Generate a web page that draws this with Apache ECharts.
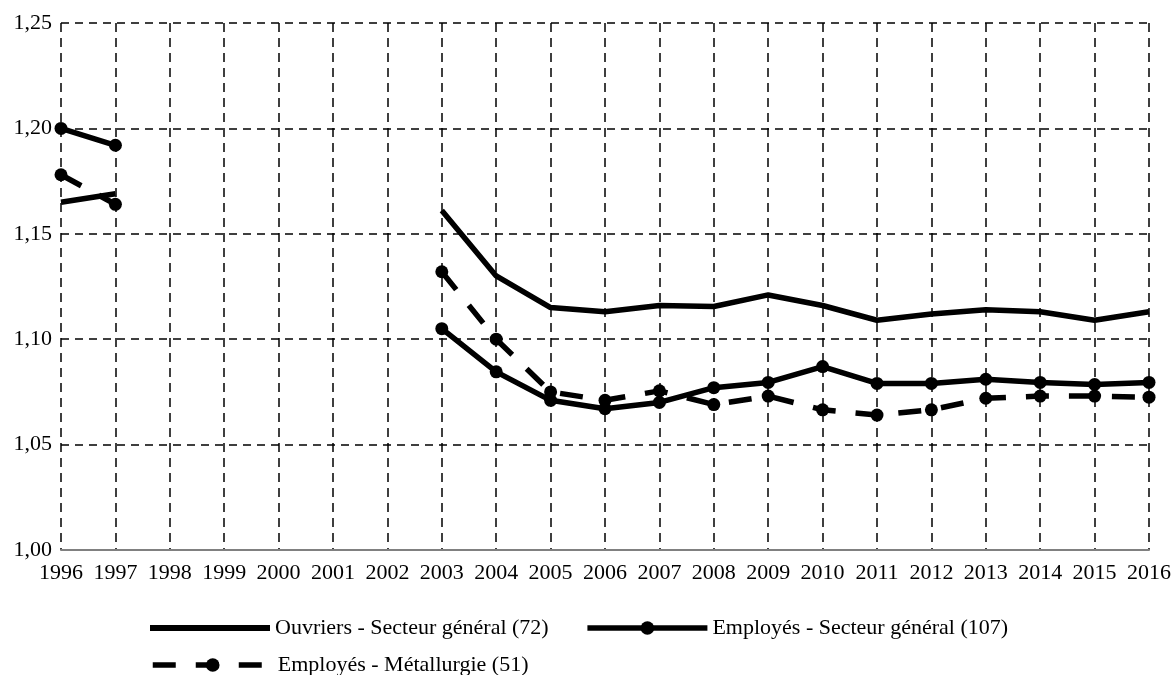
<!DOCTYPE html>
<html>
<head>
<meta charset="utf-8">
<script src="https://cdn.jsdelivr.net/npm/echarts@6/dist/echarts.min.js"></script>
<style>
html,body{margin:0;padding:0;background:#fff;}
#chart{width:1176px;height:675px;}
</style>
</head>
<body>
<div id="chart"></div>
<script>
const years = ['1996','1997','1998','1999','2000','2001','2002','2003','2004','2005','2006','2007','2008','2009','2010','2011','2012','2013','2014','2015','2016'];
const ouvriersSG = [1.165,1.169,null,null,null,null,null,1.161,1.130,1.115,1.113,1.116,1.1155,1.121,1.116,1.109,1.112,1.114,1.113,1.109,1.113];
const employesSG = [1.200,1.192,null,null,null,null,null,1.105,1.0845,1.071,1.067,1.070,1.077,1.0795,1.087,1.079,1.079,1.081,1.0795,1.0785,1.0795];
const employesMet = [1.178,1.164,null,null,null,null,null,1.132,1.100,1.075,1.071,1.0755,1.069,1.073,1.0665,1.064,1.0665,1.072,1.073,1.073,1.0725];
const names = ['Ouvriers - Secteur général (72)','Employés - Secteur général (107)','Employés - Métallurgie (51)'];

const font = 'Liberation Serif';
const chart = echarts.init(document.getElementById('chart'), null, {renderer:'canvas'});
const legendText = {fontFamily:font, fontSize:22, color:'#000'};
const legendLine = {width:5.5};
chart.setOption({
  animation:false,
  backgroundColor:'#fff',
  grid:{left:61, right:27, top:23, bottom:125, containLabel:false},
  legend:[
    {data:[{name:names[0], icon:'path://M0 0H120V6H0Z'}, names[1]], left:145, top:612, itemWidth:120, itemHeight:17, itemGap:36, textStyle:legendText, lineStyle:legendLine},
    {data:[names[2]], left:145, top:649, itemWidth:120, itemHeight:17, textStyle:legendText, lineStyle:legendLine}
  ],
  xAxis:{
    type:'category', data:years, boundaryGap:false,
    axisLine:{show:true, lineStyle:{color:'#808080', width:2}},
    axisTick:{show:false},
    axisLabel:{fontFamily:font, fontSize:22, color:'#000', margin:12, interval:0},
    splitLine:{show:true, lineStyle:{color:'#000', width:1.5, type:[9,6]}}
  },
  yAxis:{
    type:'value', min:1, max:1.25, interval:0.05,
    axisLine:{show:false}, axisTick:{show:false},
    axisLabel:{fontFamily:font, fontSize:22, color:'#000', margin:9,
      formatter:v=>v.toFixed(2).replace('.',',')},
    splitLine:{show:true, lineStyle:{color:'#000', width:1.5, type:[8,6]}}
  },
  series:[
    {name:names[0], type:'line', data:ouvriersSG, symbol:'none', connectNulls:false,
      lineStyle:{color:'#000', width:5.5}, itemStyle:{color:'#000'}},
    {name:names[1], type:'line', data:employesSG, symbol:'circle', symbolSize:13, showSymbol:true, connectNulls:false,
      lineStyle:{color:'#000', width:5.5}, itemStyle:{color:'#000'}},
    {name:names[2], type:'line', data:employesMet, symbol:'circle', symbolSize:13, showSymbol:true, connectNulls:false,
      lineStyle:{color:'#000', width:5.5, type:[23,20]}, itemStyle:{color:'#000'}}
  ]
});
</script>
</body>
</html>
